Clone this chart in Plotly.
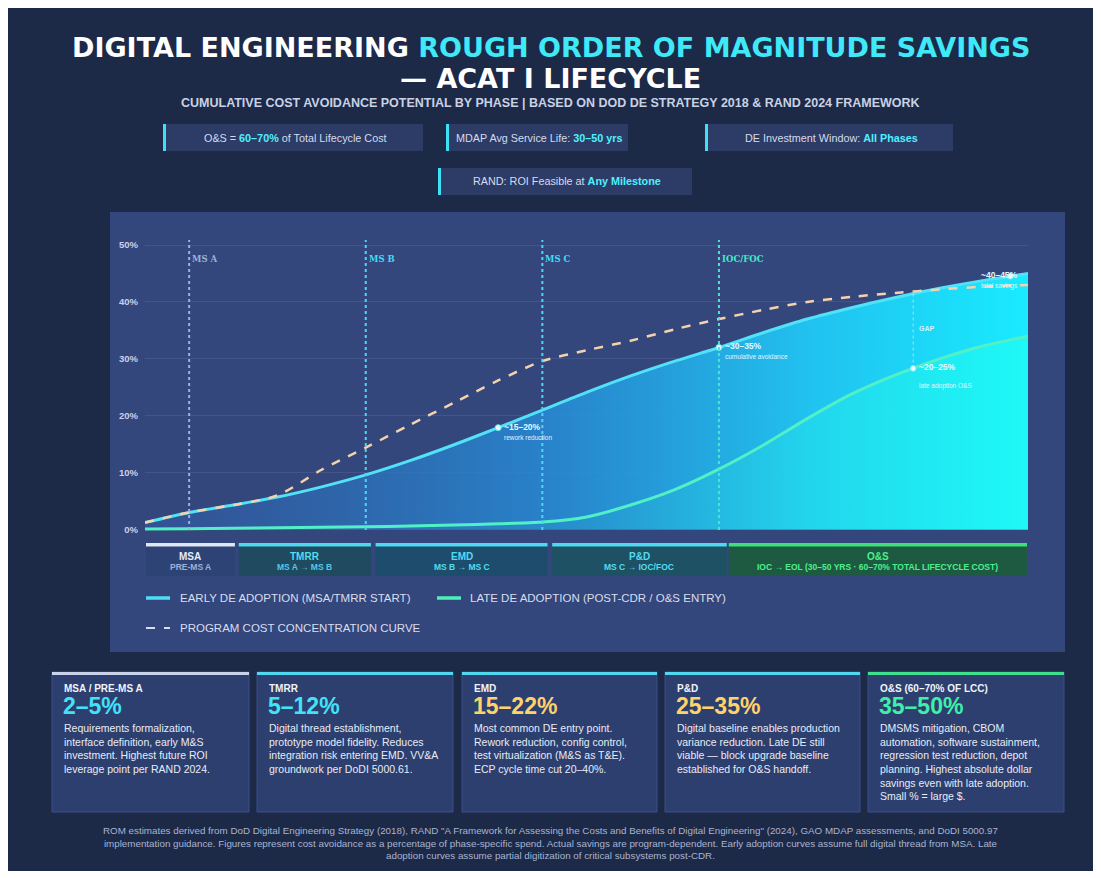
import numpy as np
import plotly.graph_objects as go

# ---------------- data ----------------
x_pts = [0, 5, 10, 15, 20, 25, 30, 35, 40, 45, 50, 55, 60, 65, 70, 75, 80, 85, 90, 95, 100]
early_pct = [1.2, 3.0, 4.3, 5.7, 7.5, 9.6, 12.1, 14.9, 17.9, 21.0, 24.1, 27.0, 29.6, 32.0,
             34.6, 37.0, 39.0, 40.8, 42.4, 43.8, 45.0]
late_pct = [0.1, 0.15, 0.2, 0.3, 0.4, 0.5, 0.6, 0.8, 1.0, 1.3, 2.2, 4.3, 7.0, 10.6,
            14.8, 19.5, 23.8, 27.2, 30.0, 32.3, 34.0]
cost_conc = [1.2, 3.0, 4.3, 6.0, 10.5, 14.4, 18.4, 22.3, 26.2, 29.6, 31.5, 33.2, 35.2, 37.0,
             38.6, 40.0, 40.9, 41.6, 42.2, 42.7, 43.0]

milestone_names = ["MS A", "MS B", "MS C", "IOC/FOC"]
milestone_x = [5, 25, 45, 65]
milestone_colors = ["#9fb0d6", "#45d9f5", "#45d9f5", "#45e8c8"]

phase_names = ["MSA", "TMRR", "EMD", "P&D", "O&S"]
phase_sub = ["PRE-MS A", "MS A → MS B", "MS B → MS C", "MS C → IOC/FOC",
             "IOC → EOL (30–50 YRS · 60–70% TOTAL LIFECYCLE COST)"]
phase_start = [0, 10.5, 26, 46, 66]
phase_end = [10.3, 25.7, 45.7, 66, 100]

callout_x = [40, 65, 98, 87]
callout_series = ["early", "early", "early", "late"]
callout_main = ["~15–20%", "~30–35%", "~40–45%", "~20–25%"]
callout_sub = ["rework reduction", "cumulative avoidance", "total savings", "late adoption O&S"]
gap_x = 87

y_ticks = [0, 10, 20, 30, 40, 50]
y_tick_labels = ["0%", "10%", "20%", "30%", "40%", "50%"]

card_titles = ["MSA / PRE-MS A", "TMRR", "EMD", "P&D", "O&S (60–70% OF LCC)"]
card_values = ["2–5%", "5–12%", "15–22%", "25–35%", "35–50%"]
card_texts = [
    "Requirements formalization,<br>interface definition, early M&S<br>investment. Highest future ROI<br>leverage point per RAND 2024.",
    "Digital thread establishment,<br>prototype model fidelity. Reduces<br>integration risk entering EMD. VV&A<br>groundwork per DoDI 5000.61.",
    "Most common DE entry point.<br>Rework reduction, config control,<br>test virtualization (M&S as T&E).<br>ECP cycle time cut 20–40%.",
    "Digital baseline enables production<br>variance reduction. Late DE still<br>viable — block upgrade baseline<br>established for O&S handoff.",
    "DMSMS mitigation, CBOM<br>automation, software sustainment,<br>regression test reduction, depot<br>planning. Highest absolute dollar<br>savings even with late adoption.<br>Small % = large $.",
]

badges = [
    ("O&S = ", "60–70%", " of Total Lifecycle Cost"),
    ("MDAP Avg Service Life: ", "30–50 yrs", ""),
    ("DE Investment Window: ", "All Phases", ""),
    ("RAND: ROI Feasible at ", "Any Milestone", ""),
]

# ---------------- layout helpers ----------------
W, H = 1101, 878
L, R, T, B = 145, 1028, 240, 535
YMIN, YMAX = -0.97, 50.9
FONT = "Liberation Sans, Arial, sans-serif"

def px(x):
    return (x - L) / (R - L)

def py(y):
    return (B - y) / (B - T)

def xd(x):  # data x -> pixel
    return L + x / 100 * (R - L)

shapes = []
anns = []

def rect(x0, y0, x1, y1, fill, line=None, lw=0, layer="below"):
    shapes.append(dict(type="rect", xref="paper", yref="paper", x0=px(x0), x1=px(x1),
                       y0=py(y1), y1=py(y0), fillcolor=fill,
                       line=dict(color=line or "rgba(0,0,0,0)", width=lw), layer=layer))

def text(x, y, t, size, color, xanchor="center", yanchor="middle", weight="normal", align=None, family=FONT):
    anns.append(dict(xref="paper", yref="paper", x=px(x), y=py(y), text=t, showarrow=False,
                     xanchor=xanchor, yanchor=yanchor, align=align or xanchor,
                     font=dict(family=family, size=size, color=color, weight=weight)))

# background
rect(8, 8, 1093, 871, "#1c2947")
# chart panel
rect(110, 212, 1065, 652, "#33477c")

# title
TFONT = "DejaVu Sans, Liberation Sans, sans-serif"
text(W / 2, 47, "DIGITAL ENGINEERING <span style='color:#3fe9f7'>ROUGH ORDER OF MAGNITUDE SAVINGS</span>",
     27, "#ffffff", weight="bold", family=TFONT)
text(W / 2, 79, "— ACAT I LIFECYCLE", 27, "#ffffff", weight="bold", family=TFONT)
text(W / 2, 103, "CUMULATIVE COST AVOIDANCE POTENTIAL BY PHASE | BASED ON DOD DE STRATEGY 2018 & RAND 2024 FRAMEWORK",
     12.5, "#c9d1e4", weight="bold")

# badges
badge_boxes = [(163, 124, 423, 151), (446, 124, 628, 151), (705, 124, 953, 151), (438, 168, 692, 195)]
for (a, b, c), (x0, y0, x1, y1) in zip(badges, badge_boxes):
    rect(x0, y0, x1, y1, "#2c3c66")
    rect(x0, y0, x0 + 3, y1, "#3fe0f5")
    text((x0 + x1) / 2 + 2, (y0 + y1) / 2,
         f"{a}<b><span style='color:#4ff0ff'>{b}</span></b>{c}", 10.8, "#d5dbec")

# phase bar
phase_bg = ["#2e4375", "#1f4a5f", "#1d4c6c", "#1e5163", "#1d5a41"]
phase_strip = ["#dfe7f5", "#4fd8f0", "#4fd8f0", "#4fd8f0", "#3fe07c"]
phase_txt = ["#e6ecf8", "#52dcf2", "#52dcf2", "#52dcf2", "#4cf08a"]
phase_subc = ["#9fb0d8", "#52c8e8", "#52dcf2", "#52dcf2", "#4cf08a"]
for i, nm in enumerate(phase_names):
    x0, x1 = xd(phase_start[i]) + 1, xd(phase_end[i]) - 1
    rect(x0, 543, x1, 576, phase_bg[i])
    rect(x0, 543, x1, 546.5, phase_strip[i])
    text((x0 + x1) / 2, 556, f"<b>{nm}</b>", 10, phase_txt[i])
    text((x0 + x1) / 2, 567, f"<b>{phase_sub[i]}</b>", 8.5, phase_subc[i])

# legend (custom)
shapes.append(dict(type="line", xref="paper", yref="paper", x0=px(146), x1=px(170), y0=py(598), y1=py(598),
                   line=dict(color="#4fdcf5", width=3.5)))
text(178, 598, "EARLY DE ADOPTION (MSA/TMRR START)", 11.5, "#d8ddef", xanchor="left")
shapes.append(dict(type="line", xref="paper", yref="paper", x0=px(437), x1=px(461), y0=py(598), y1=py(598),
                   line=dict(color="#4ef0b8", width=3.5)))
text(468, 598, "LATE DE ADOPTION (POST-CDR / O&S ENTRY)", 11.5, "#d8ddef", xanchor="left")
shapes.append(dict(type="line", xref="paper", yref="paper", x0=px(146), x1=px(170), y0=py(628), y1=py(628),
                   line=dict(color="#d8ddef", width=2, dash="dash")))
text(178, 628, "PROGRAM COST CONCENTRATION CURVE", 11.5, "#d8ddef", xanchor="left")

# milestones
for nm, mx, mc in zip(milestone_names, milestone_x, milestone_colors):
    shapes.append(dict(type="line", xref="x", yref="paper", x0=mx, x1=mx, y0=py(530), y1=py(240),
                       line=dict(color=mc, width=2, dash="dot"), layer="above"))
    anns.append(dict(xref="x", yref="paper", x=mx, y=py(252), text=f"<b>{nm}</b>", showarrow=False,
                     xanchor="left", xshift=1, font=dict(family="DejaVu Serif, serif", size=8.5, color=mc)))

# gap line
ge = float(np.interp(gap_x, x_pts, early_pct))
gl = float(np.interp(gap_x, x_pts, late_pct))
shapes.append(dict(type="line", xref="x", yref="y", x0=gap_x, x1=gap_x, y0=gl, y1=ge,
                   line=dict(color="rgba(220,240,255,0.55)", width=1.2, dash="dot"), layer="above"))
anns.append(dict(xref="x", yref="y", x=gap_x, y=(ge + gl) / 2 + 0.5, text="<b>GAP</b>", showarrow=False,
                 xanchor="left", xshift=4, font=dict(family=FONT, size=7, color="#d8f2ff")))

# cards
card_x = [(52, 249), (257, 453), (462, 657), (665, 860), (868, 1064)]
card_strip = ["#c9d4ec", "#4fd8f0", "#4fd8f0", "#4fd8f0", "#3ee08e"]
card_val_col = ["#42e3f8", "#42e3f8", "#ffd36a", "#ffd36a", "#3ff0a8"]
for i, (x0, x1) in enumerate(card_x):
    rect(x0, 672, x1, 812, "#2c3f6f", line="#3b518a", lw=1)
    rect(x0, 672, x1, 675, card_strip[i])
    text(x0 + 10, 688, f"<b>{card_titles[i]}</b>", 10, "#f0f3fa", xanchor="left")
    text(x0 + 9, 706, f"<b>{card_values[i]}</b>", 23, card_val_col[i], xanchor="left")
    text(x0 + 10, 720, card_texts[i], 10.5, "#e8ecf6", xanchor="left", yanchor="top")

# footer
text(W / 2, 843,
     "ROM estimates derived from DoD Digital Engineering Strategy (2018), RAND \"A Framework for Assessing the Costs and Benefits of Digital Engineering\" (2024), GAO MDAP assessments, and DoDI 5000.97<br>"
     "implementation guidance. Figures represent cost avoidance as a percentage of phase-specific spend. Actual savings are program-dependent. Early adoption curves assume full digital thread from MSA. Late<br>"
     "adoption curves assume partial digitization of critical subsystems post-CDR.",
     9.8, "#a9b4d2")

# ---------------- traces ----------------
fig = go.Figure()
fig.add_trace(go.Scatter(
    x=x_pts, y=early_pct, mode="lines", fill="tozeroy",
    fillgradient=dict(type="horizontal",
                      colorscale=[[0, "rgba(50,90,165,0.55)"], [0.45, "rgba(38,140,215,0.85)"],
                                  [0.75, "rgba(32,200,245,0.95)"], [1, "rgba(25,235,255,1)"]]),
    line=dict(color="#52e2f7", width=3, shape="spline", smoothing=0.8), hoverinfo="skip"))
fig.add_trace(go.Scatter(
    x=x_pts, y=late_pct, mode="lines", fill="tozeroy",
    fillgradient=dict(type="horizontal",
                      colorscale=[[0, "rgba(40,120,190,0)"], [0.5, "rgba(40,170,210,0.25)"],
                                  [0.75, "rgba(35,225,235,0.6)"], [1, "rgba(30,250,245,0.9)"]]),
    line=dict(color="#52f0c6", width=3, shape="spline", smoothing=0.8), hoverinfo="skip"))
fig.add_trace(go.Scatter(
    x=x_pts, y=cost_conc, mode="lines",
    line=dict(color="#f5d2ac", width=2.5, dash="dash", shape="spline", smoothing=0.8), hoverinfo="skip"))

# callouts
for cx, cs, cm, csub in zip(callout_x, callout_series, callout_main, callout_sub):
    arr = early_pct if cs == "early" else late_pct
    cy = float(np.interp(cx, x_pts, arr))
    fig.add_trace(go.Scatter(x=[cx], y=[cy], mode="markers",
                             marker=dict(size=6, color="#e6fbff", line=dict(color="#5fe6fa", width=1)),
                             hoverinfo="skip"))
    right = cx > 95
    anns.append(dict(xref="x", yref="y", x=cx, y=cy, text=f"<b>{cm}</b>", showarrow=False,
                     xanchor="right" if right else "left", yanchor="bottom",
                     xshift=4 if not right else 10, yshift=-6,
                     font=dict(family=FONT, size=8.5, color="#e0fbff")))
    anns.append(dict(xref="x", yref="y", x=cx, y=cy, text=csub, showarrow=False,
                     xanchor="right" if right else "left", yanchor="top",
                     xshift=4 if not right else 10, yshift=-4 if cs == "early" else -12,
                     font=dict(family=FONT, size=6.5, color="#e6f2ff")))

fig.update_layout(
    width=W, height=H, showlegend=False,
    margin=dict(l=L, r=W - R, t=T, b=H - B, pad=0),
    paper_bgcolor="#ffffff", plot_bgcolor="rgba(0,0,0,0)",
    xaxis=dict(range=[0, 100], showgrid=False, zeroline=False, showticklabels=False, fixedrange=True),
    yaxis=dict(range=[YMIN, YMAX], tickvals=y_ticks, ticktext=y_tick_labels, showgrid=True,
               gridcolor="rgba(200,215,255,0.10)", zeroline=False, ticks="",
               tickfont=dict(family=FONT, size=9.5, color="#c9d0ec", weight="bold"), ticklabelstandoff=6),
    shapes=shapes, annotations=anns,
)

fig.write_html("out.html")
